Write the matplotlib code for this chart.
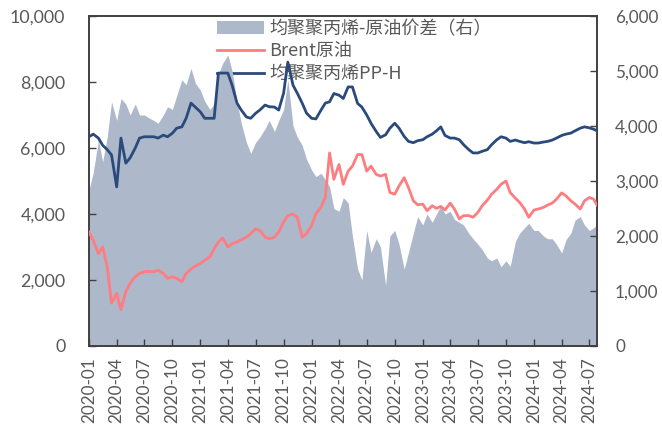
import pandas as pd
import matplotlib
matplotlib.use("Agg")
import matplotlib.pyplot as plt
import matplotlib.dates as mdates

plt.rcParams['font.family'] = ['Lato', 'Noto Sans CJK SC', 'DejaVu Sans']

# semi-monthly readings, 2020-01-01 .. 2024-07-15, plus last day
dates = list(pd.date_range('2020-01-01', '2024-07-15', freq='SMS')) + [pd.Timestamp('2024-07-26')]

pp_h = [6340, 6420, 6300, 6080, 5950, 5790, 4820, 6300, 5540, 5700, 6000, 6300,
        6340, 6340, 6340, 6300, 6390, 6340, 6450, 6600, 6640, 6900, 7360, 7240,
        7090, 6900, 6900, 6900, 8270, 8270, 8270, 7900, 7360, 7150, 6940, 6900,
        7050, 7150, 7300, 7250, 7240, 7150, 7660, 8600, 7900, 7660, 7360, 7060,
        6900, 6880, 7150, 7360, 7400, 7650, 7600, 7500, 7850, 7850, 7350, 7240,
        7000, 6750, 6500, 6320, 6400, 6600, 6750, 6600, 6350, 6200, 6160, 6220,
        6250, 6340, 6420, 6520, 6640, 6380, 6300, 6300, 6250, 6100, 5950, 5850,
        5850, 5900, 5950, 6100, 6250, 6340, 6300, 6200, 6240, 6200, 6160, 6190,
        6150, 6150, 6180, 6200, 6240, 6300, 6380, 6420, 6450, 6520, 6600, 6640,
        6610, 6570, 6520]

brent = [3450, 3200, 2800, 3000, 2400, 1300, 1600, 1100, 1650, 1900, 2100, 2200,
         2250, 2260, 2250, 2300, 2200, 2050, 2100, 2050, 1950, 2200, 2330, 2420,
         2500, 2600, 2700, 2950, 3150, 3270, 3000, 3100, 3150, 3220, 3300, 3400,
         3550, 3500, 3300, 3250, 3300, 3450, 3760, 3950, 4000, 3900, 3300, 3400,
         3650, 4000, 4210, 4500, 5850, 5050, 5500, 4900, 5300, 5450, 5800, 5800,
         5300, 5450, 5200, 5150, 5200, 4650, 4600, 4850, 5100, 4800, 4400, 4280,
         4300, 4100, 4250, 4170, 4230, 4120, 4330, 4150, 3850, 3950, 3950, 3900,
         4050, 4250, 4420, 4600, 4750, 4900, 5000, 4650, 4480, 4350, 4150, 3900,
         4120, 4150, 4200, 4270, 4330, 4450, 4640, 4550, 4400, 4300, 4150, 4400,
         4500, 4450, 4270]

spread = [2840, 3150, 3750, 3350, 3800, 4440, 4100, 4500, 4400, 4200, 4400, 4200,
          4200, 4150, 4100, 4050, 4200, 4350, 4300, 4550, 4840, 4750, 5050, 4780,
          4650, 4450, 4300, 4400, 4950, 5140, 5290, 5000, 4450, 4050, 3700, 3500,
          3700, 3800, 3950, 4100, 3900, 4100, 4300, 4840, 4000, 3800, 3650, 3400,
          3200, 3080, 3140, 3020, 2900, 2500, 2450, 2700, 2600, 2000, 1400, 1200,
          2100, 1700, 1950, 1800, 1100, 2000, 2100, 1850, 1400, 1700, 2050, 2350,
          2200, 2400, 2250, 2400, 2550, 2400, 2450, 2300, 2250, 2200, 2050, 1950,
          1850, 1750, 1600, 1550, 1600, 1440, 1550, 1450, 1900, 2050, 2150, 2230,
          2100, 2100, 2000, 1950, 1950, 1850, 1690, 1930, 2050, 2290, 2350, 2200,
          2100, 2150, 2200]

labels = ['均聚聚丙烯-原油价差（右）', 'Brent原油', '均聚聚丙烯PP-H']

text_color = '#595959'
spine_color = '#404040'

fig = plt.figure(figsize=(6.62, 4.25), dpi=100)
# area axis (right scale) is drawn first, lines axis on top of it
ax = fig.add_axes([0.1344, 0.1859, 0.7674, 0.7765])
ax2 = ax.twinx()

area = ax.fill_between(dates, spread, 0, color='#ADB9CA', linewidth=0, zorder=1)
ax.set_ylim(0, 6000)
ax.set_yticks(range(0, 6001, 1000))
ax.yaxis.tick_right()
ax.yaxis.set_major_formatter(matplotlib.ticker.StrMethodFormatter('{x:,.0f}'))

l_brent, = ax2.plot(dates, brent, color='#FF7C80', linewidth=2.0, zorder=3)
l_pp, = ax2.plot(dates, pp_h, color='#2B4A7C', linewidth=2.0, zorder=4)
ax2.set_ylim(0, 10000)
ax2.set_yticks(range(0, 10001, 2000))
ax2.yaxis.tick_left()
ax2.yaxis.set_major_formatter(matplotlib.ticker.StrMethodFormatter('{x:,.0f}'))

ax.set_xlim(pd.Timestamp('2020-01-01'), pd.Timestamp('2024-07-26'))
ax.xaxis.set_major_locator(mdates.MonthLocator(bymonth=[1, 4, 7, 10]))
ax.xaxis.set_major_formatter(mdates.DateFormatter('%Y-%m'))
for lab in ax.get_xticklabels():
    lab.set_rotation(90)

ax.tick_params(axis='x', direction='in', length=5, width=1, color=spine_color,
               labelsize=12.3, labelcolor=text_color, pad=8)
ax.tick_params(axis='y', direction='in', length=5, width=1, color=spine_color,
               labelsize=12.3, labelcolor=text_color, pad=13)
ax2.tick_params(axis='y', direction='in', length=5, width=1, color=spine_color,
                labelsize=12.8, labelcolor=text_color, pad=17)

for a in (ax, ax2):
    for sp in a.spines.values():
        sp.set_color(spine_color)
        sp.set_linewidth(1.2)

leg = ax.legend([area, l_brent, l_pp], labels, loc='upper left',
                bbox_to_anchor=(0.328, 0.953), bbox_transform=fig.transFigure,
                frameon=False, prop={'family': 'Noto Sans CJK SC', 'size': 13},
                handlelength=2.6, handletextpad=0.3,
                labelspacing=0.25, borderpad=0, borderaxespad=0)
leg.set_zorder(0.5)
for t in leg.get_texts():
    t.set_color(text_color)

fig.savefig('out.png', dpi=100)
